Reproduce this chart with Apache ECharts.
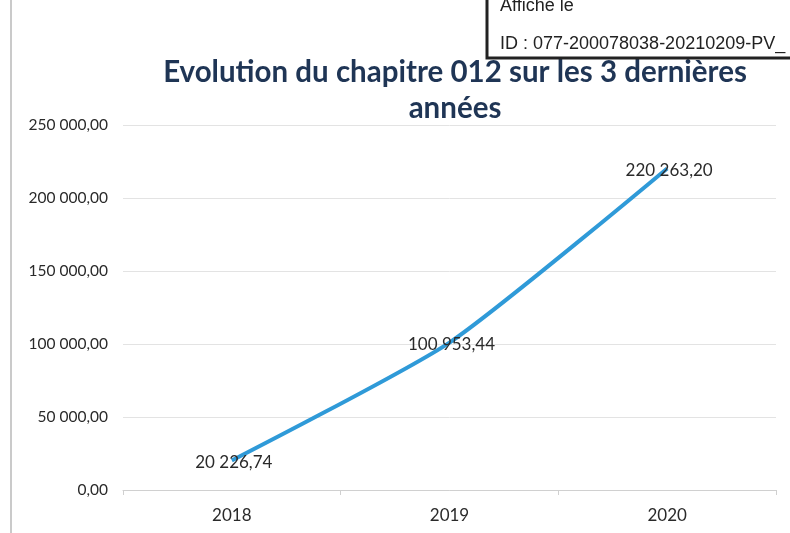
<!DOCTYPE html>
<html>
<head>
<meta charset="utf-8">
<script src="https://cdn.jsdelivr.net/npm/echarts@6/dist/echarts.min.js"></script>
<style>
  html, body { margin: 0; padding: 0; background: #fff; }
  #chart { width: 790px; height: 533px; }
</style>
</head>
<body>
<div id="chart"></div>
<script>
// données
const years = ['2018', '2019', '2020'];
const charges = [20226.74, 100953.44, 220263.20];
const stampLines = ['Affiché le', 'ID : 077-200078038-20210209-PV_'];

// format français : espace pour les milliers, virgule décimale
const frNum = (v) => {
  const parts = Number(v).toFixed(2).split('.');
  parts[0] = parts[0].replace(/\B(?=(\d{3})+(?!\d))/g, ' ');
  return parts.join(',');
};

const chart = echarts.init(document.getElementById('chart'));

const option = {
  backgroundColor: '#fff',
  animation: false,
  title: {
    text: 'Evolution du chapitre 012 sur les 3 dernières\nannées',
    left: 450,
    top: 49,
    textAlign: 'center',
    textStyle: {
      fontFamily: 'Lato',
      fontWeight: 'bold',
      fontSize: 29.5,
      lineHeight: 36,
      color: '#1f3555'
    }
  },
  grid: { left: 123, right: 14, top: 125, bottom: 43 },
  xAxis: {
    type: 'category',
    data: years,
    boundaryGap: true,
    axisLine: { lineStyle: { color: '#d0d0d0', width: 1 } },
    axisTick: { show: true, length: 5, lineStyle: { color: '#d0d0d0' } },
    axisLabel: {
      margin: 17,
      fontFamily: 'Lato',
      fontSize: 17,
      color: '#2a2a2a'
    }
  },
  yAxis: {
    type: 'value',
    min: 0,
    max: 250000,
    interval: 50000,
    axisLine: { show: false },
    axisTick: { show: false },
    splitLine: { lineStyle: { color: '#e3e3e3', width: 1 } },
    axisLabel: {
      margin: 15,
      fontFamily: 'Lato',
      fontSize: 15.5,
      color: '#2a2a2a',
      formatter: frNum
    }
  },
  series: [{
    type: 'line',
    data: charges,
    smooth: 0.2,
    symbol: 'circle',
    symbolSize: 2,
    showSymbol: true,
    itemStyle: { color: 'rgba(0,0,0,0)', borderWidth: 0 },
    lineStyle: { color: '#2f9ad8', width: 4 },
    label: {
      show: true,
      position: 'inside',
      offset: [2, 2],
      fontFamily: 'Lato',
      fontSize: 17,
      color: '#2a2a2a',
      formatter: (p) => frNum(p.value)
    }
  }],
  graphic: [
    {
      type: 'line',
      shape: { x1: 11, y1: 0, x2: 11, y2: 533 },
      style: { stroke: '#b8b8b8', lineWidth: 1.5 }
    },
    {
      type: 'rect',
      z: 100,
      shape: { x: 487, y: -5, width: 320, height: 63 },
      style: { fill: '#fff', stroke: '#222', lineWidth: 3 }
    },
    {
      type: 'text',
      z: 101,
      left: 500,
      top: -3,
      style: {
        text: stampLines[0],
        fontFamily: 'Liberation Sans',
        fontSize: 18,
        fill: '#222'
      }
    },
    {
      type: 'text',
      z: 101,
      left: 500,
      top: 35,
      style: {
        text: stampLines[1],
        fontFamily: 'Liberation Sans',
        fontSize: 18,
        fill: '#222'
      }
    }
  ]
};

chart.setOption(option);
</script>
</body>
</html>
